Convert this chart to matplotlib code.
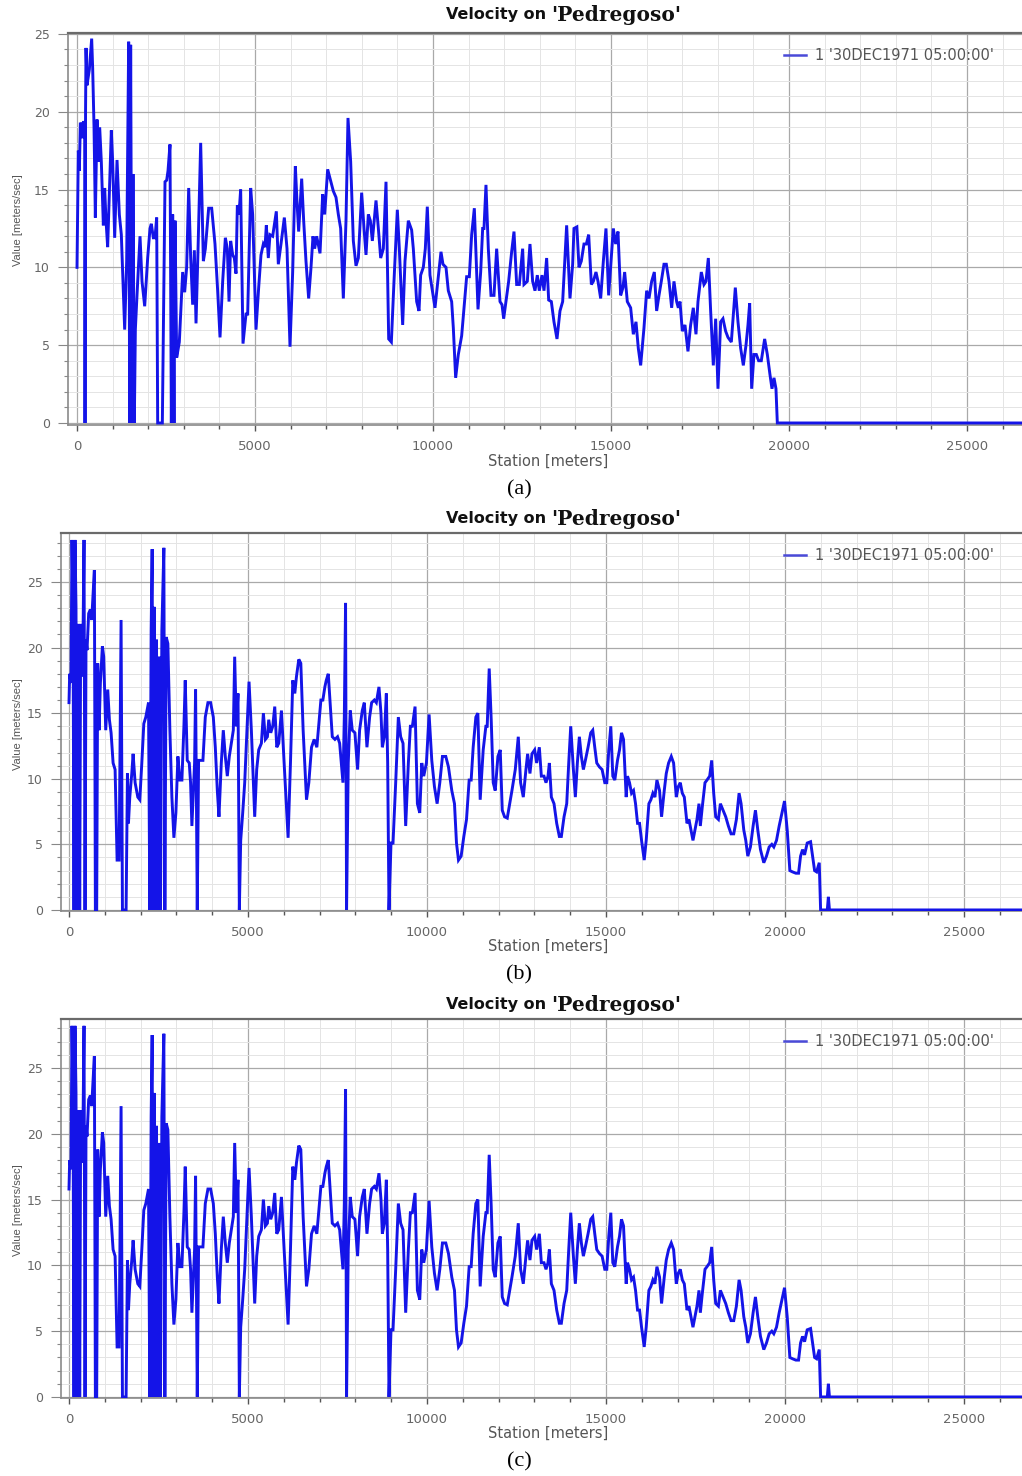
import matplotlib
matplotlib.use("Agg")
import matplotlib.pyplot as plt
from matplotlib.ticker import MultipleLocator
from matplotlib.lines import Line2D

# ---------------- data ----------------
# Panel (a): velocity profile along the reach
station_a = [
    0, 37, 66, 94, 131, 159, 187, 215, 225, 240,
    253, 281, 346, 412, 440, 478, 515, 562, 599, 637,
    683, 740, 777, 815, 861, 908, 964, 1002, 1058, 1124,
    1189, 1245, 1339, 1395, 1451, 1479, 1507, 1545, 1573, 1610,
    1639, 1685, 1770, 1826, 1901, 1985, 2050, 2088, 2144, 2191,
    2238, 2266, 2397, 2472, 2519, 2556, 2612, 2650, 2687, 2725,
    2753, 2800, 2874, 2968, 3024, 3080, 3137, 3193, 3249, 3296,
    3343, 3399, 3474, 3549, 3605, 3698, 3783, 3876, 3951, 4017,
    4092, 4167, 4223, 4270, 4316, 4373, 4419, 4466, 4504, 4550,
    4597, 4663, 4747, 4794, 4878, 4934, 5028, 5103, 5168, 5234,
    5281, 5318, 5374, 5421, 5496, 5599, 5655, 5730, 5824, 5899,
    5983, 6058, 6133, 6180, 6226, 6311, 6367, 6432, 6507, 6573,
    6629, 6676, 6732, 6826, 6901, 6957, 7041,
    7200, 7275, 7341, 7406, 7481, 7556, 7612, 7687, 7762, 7837,
    7903, 7996, 8062, 8118, 8183, 8240, 8296, 8399, 8465, 8530,
    8605, 8680, 8755, 8830, 8904, 8998, 9054, 9148, 9213, 9307,
    9400, 9447, 9541, 9607, 9653, 9728, 9784, 9840, 9915, 10056,
    10149, 10224, 10280, 10365, 10430, 10524, 10571, 10636, 10711, 10805,
    10870, 10945, 11020, 11086, 11161, 11264, 11339, 11395, 11432, 11488,
    11554, 11629, 11713, 11788, 11882, 11938, 11985, 12050, 12125, 12209,
    12275, 12350, 12425, 12518, 12556, 12649, 12724, 12799, 12865, 12930,
    12986, 13061, 13118, 13192, 13249, 13324, 13398, 13483, 13567, 13642,
    13754, 13848, 13923,
    13960, 14041, 14101, 14166, 14241, 14307, 14373, 14448, 14504, 14578,
    14635, 14710, 14785, 14859, 14934, 14990, 15065, 15131, 15196, 15271,
    15336, 15383, 15458, 15552, 15627, 15702, 15767, 15833, 15926, 16001,
    16067, 16142, 16217, 16282, 16348, 16413, 16488, 16554, 16629, 16704,
    16769, 16844, 16891, 16938, 17003, 17078, 17162, 17237, 17312, 17387,
    17443, 17537, 17612, 17668, 17734, 17799, 17874, 17940, 18005, 18080,
    18145, 18220, 18286, 18380, 18492, 18567, 18642, 18717, 18792, 18848,
    18895, 18951, 19016, 19082, 19147, 19222, 19316, 19391, 19466, 19522,
    19578, 19634, 19672, 26600,
]
velocity_a = [
    10.0, 17.5, 16.2, 19.3, 19.0, 18.3, 19.4, 19.0, 0.0, 20.0,
    24.1, 21.7, 22.7, 24.7, 22.8, 19.0, 13.2, 19.5, 16.8, 19.0,
    16.8, 12.7, 15.1, 13.0, 11.3, 14.7, 18.8, 16.8, 11.9, 16.9,
    13.4, 12.1, 6.0, 10.4, 24.5, 0.0, 24.3, 0.0, 16.0, 0.0,
    6.0, 8.2, 12.0, 9.1, 7.5, 10.6, 12.5, 12.8, 11.9, 11.9,
    13.2, 0.0, 0.0, 15.5, 15.6, 16.2, 17.9, 0.0, 13.4, 0.0,
    13.0, 4.2, 5.2, 9.7, 8.4, 10.0, 15.1, 10.6, 7.6, 11.1,
    6.4, 11.1, 18.0, 10.4, 11.2, 13.8, 13.8, 11.5, 8.5, 5.5,
    9.1, 11.9, 11.2, 7.8, 11.7, 10.8, 10.6, 9.6, 14.0, 13.4,
    15.0, 5.1, 7.0, 7.0, 15.1, 13.4, 6.0, 8.7, 10.8, 11.5,
    11.3, 12.7, 10.6, 12.1, 12.0, 13.6, 10.2, 11.5, 13.2, 11.2,
    4.9, 9.7, 16.5, 14.2, 12.3, 15.7, 13.0, 10.4, 8.0, 10.0,
    12.0, 11.2, 12.0, 10.9, 14.7, 13.4, 16.3,
    14.9, 14.5, 13.4, 12.5, 8.0, 13.0, 19.6, 16.8, 11.7, 10.1,
    10.6, 14.8, 12.5, 10.8, 13.4, 13.0, 11.7, 14.3, 12.5, 10.6,
    11.2, 15.5, 5.4, 5.2, 9.1, 13.7, 11.2, 6.3, 10.4, 13.0,
    12.4, 11.2, 7.8, 7.2, 9.5, 10.0, 11.2, 13.9, 9.5, 7.4,
    9.4, 11.0, 10.2, 10.0, 8.5, 7.8, 6.1, 2.9, 4.4, 5.6,
    7.4, 9.4, 9.4, 12.1, 13.8, 7.3, 9.7, 12.5, 12.5, 15.3,
    11.2, 8.2, 8.2, 11.2, 7.8, 7.6, 6.7, 7.8, 9.1, 11.0,
    12.3, 8.9, 8.9, 11.2, 8.9, 9.1, 11.5, 9.1, 8.5, 9.5,
    8.5, 9.5, 8.5, 10.6, 7.9, 7.8, 6.5, 5.4, 7.2, 7.8,
    12.7, 8.0, 10.2,
    12.5, 12.6, 10.0, 10.4, 11.5, 11.5, 12.1, 8.9, 9.1, 9.7,
    9.1, 8.0, 10.4, 12.5, 8.2, 10.0, 12.5, 11.5, 12.3, 8.2,
    8.7, 9.7, 7.8, 7.4, 5.7, 6.5, 4.8, 3.7, 6.1, 8.5,
    8.0, 9.1, 9.7, 7.2, 8.2, 9.1, 10.2, 10.2, 9.1, 7.4,
    9.1, 7.8, 7.4, 7.8, 5.9, 6.3, 4.6, 6.3, 7.4, 5.7,
    7.8, 9.7, 8.9, 9.1, 10.6, 7.2, 3.7, 6.7, 2.2, 6.5,
    6.7, 5.9, 5.5, 5.2, 8.7, 6.5, 4.8, 3.7, 5.0, 6.3,
    7.7, 2.2, 4.4, 4.4, 4.0, 4.0, 5.4, 4.4, 3.1, 2.2,
    2.9, 2.2, 0.0, 0.0,
]

# Panels (b) and (c): velocity profile along the reach
station_bc = [
    0, 19, 56, 84, 112, 140, 168, 196, 224, 252,
    280, 299, 327, 355, 392, 420, 448, 476, 504, 550,
    597, 634, 709, 737, 774, 802, 840, 877, 933, 970,
    1026, 1082, 1129, 1176, 1232, 1288, 1344, 1400, 1455, 1493,
    1595, 1633, 1661, 1698, 1754, 1791, 1847, 1922, 1978, 2034,
    2090, 2146, 2221, 2258, 2295, 2323, 2351, 2379, 2407, 2444,
    2482, 2519, 2556, 2594, 2650, 2678, 2715, 2762, 2818, 2874,
    2930, 2986, 3042, 3098, 3154, 3210, 3247, 3303, 3359, 3396,
    3433, 3508, 3536, 3583, 3620, 3676, 3741, 3807, 3881, 3956,
    4031, 4087, 4143, 4189, 4254, 4310, 4366, 4422, 4478, 4534,
    4590, 4628, 4674, 4721, 4758, 4796, 4852, 4908, 4964, 5029,
    5094, 5187, 5243, 5299, 5374, 5430, 5486, 5542, 5579, 5635,
    5691, 5747, 5803, 5859, 5934, 6009, 6120, 6186, 6251, 6307,
    6354, 6419, 6475, 6540, 6634, 6699, 6774, 6848, 6923,
    7036, 7091, 7147, 7186, 7242, 7307, 7354, 7428, 7501, 7560,
    7615, 7652, 7690, 7725, 7753, 7800, 7856, 7912, 7986, 8061,
    8117, 8192, 8248, 8322, 8397, 8453, 8528, 8584, 8658, 8714,
    8752, 8808, 8864, 8901, 8938, 8994, 9050, 9125, 9199, 9264,
    9330, 9404, 9479, 9535, 9591, 9666, 9731, 9797, 9853, 9908,
    9983, 10058, 10133, 10207, 10282, 10357, 10431, 10524, 10599, 10692,
    10767, 10823, 10879, 10953, 11028, 11103, 11177, 11233, 11289, 11364,
    11420, 11485, 11569, 11644, 11681, 11737, 11793, 11849, 11905, 11980,
    12045, 12101, 12166, 12241, 12297, 12372, 12465, 12549, 12614, 12689,
    12763, 12810, 12875, 12931, 13006, 13062, 13137, 13193, 13267, 13323,
    13379, 13417, 13473, 13547, 13622, 13696, 13752, 13827,
    13902, 13958, 14014, 14088, 14143, 14199, 14255, 14311, 14367, 14423,
    14498, 14573, 14629, 14685, 14741, 14815, 14890, 14965, 15021, 15077,
    15133, 15189, 15245, 15320, 15376, 15432, 15488, 15563, 15600, 15656,
    15712, 15768, 15824, 15880, 15936, 15992, 16066, 16122, 16197, 16253,
    16309, 16365, 16421, 16495, 16551, 16626, 16682, 16747, 16822, 16887,
    16962, 17018, 17074, 17130, 17186, 17261, 17316, 17372, 17428, 17484,
    17540, 17596, 17634, 17690, 17764, 17820, 17895, 17951, 18007, 18063,
    18138, 18194, 18268, 18343, 18417, 18492, 18567, 18641, 18716, 18772,
    18847, 18903, 18959, 19033, 19108, 19173, 19238, 19313, 19406, 19481,
    19556, 19630, 19686, 19761, 19836, 19929, 19985, 20060, 20134, 20209,
    20302, 20377, 20433, 20489, 20545, 20619, 20713, 20769, 20825, 20881,
    20955, 20993, 21180, 21210, 21240, 26650,
]
velocity_bc = [
    15.8, 18.0, 17.3, 28.2, 23.1, 0.0, 28.2, 23.1, 0.0, 21.8,
    17.8, 0.0, 21.8, 17.8, 20.8, 28.2, 0.0, 20.6, 19.8, 22.6,
    22.9, 22.1, 25.9, 0.0, 0.0, 18.8, 13.7, 17.3, 20.1, 19.3,
    13.7, 16.8, 14.5, 13.5, 11.2, 10.7, 3.8, 3.8, 22.1, 0.0,
    0.0, 10.4, 6.6, 8.6, 10.4, 11.9, 9.7, 8.6, 8.4, 11.2,
    14.2, 14.7, 15.8, 0.0, 21.3, 27.5, 0.0, 23.1, 0.0, 20.6,
    0.0, 19.3, 0.0, 21.3, 27.6, 0.0, 20.8, 20.3, 13.7, 8.6,
    5.5, 7.4, 11.7, 9.9, 9.9, 14.0, 17.5, 11.4, 11.2, 9.7,
    6.4, 11.2, 16.8, 0.0, 11.4, 11.4, 11.4, 14.7, 15.8, 15.8,
    14.7, 12.4, 9.1, 7.1, 11.2, 13.7, 11.7, 10.2, 11.7, 12.7,
    13.7, 19.3, 14.0, 16.5, 0.0, 5.3, 7.4, 9.7, 13.2, 17.4,
    13.7, 7.1, 10.7, 12.2, 12.7, 15.0, 13.0, 13.2, 14.5, 13.5,
    14.0, 15.5, 12.4, 12.7, 15.2, 11.2, 5.5, 11.2, 17.5, 16.5,
    17.8, 19.1, 18.8, 13.7, 8.4, 9.7, 12.4, 13.0, 12.4,
    16.0, 16.0, 17.0, 17.5, 18.0, 15.2, 13.2, 13.0, 13.2, 12.7,
    10.9, 9.7, 14.7, 23.4, 0.0, 11.2, 15.2, 13.7, 13.5, 10.7,
    13.7, 15.2, 15.8, 12.4, 14.7, 15.8, 16.0, 15.8, 17.0, 15.0,
    12.4, 13.2, 16.5, 11.2, 0.0, 5.1, 5.1, 9.7, 14.7, 13.2,
    12.7, 6.4, 11.2, 14.0, 14.0, 15.5, 8.1, 7.4, 11.2, 10.2,
    11.2, 14.9, 11.4, 9.4, 8.1, 9.7, 11.7, 11.7, 10.9, 9.1,
    8.1, 5.1, 3.8, 4.1, 5.6, 6.9, 9.9, 9.9, 12.4, 14.7,
    15.0, 8.4, 12.2, 14.0, 14.0, 18.4, 14.5, 9.7, 9.1, 11.7,
    12.2, 7.6, 7.1, 7.0, 7.9, 9.1, 10.7, 13.2, 9.7, 8.6,
    10.7, 11.9, 10.4, 11.9, 12.2, 11.2, 12.4, 10.2, 10.2, 9.7,
    10.2, 11.2, 8.6, 8.1, 6.6, 5.6, 5.6, 7.1,
    8.1, 11.2, 14.0, 10.7, 8.6, 11.2, 13.2, 11.7, 10.7, 11.4,
    12.4, 13.5, 13.7, 12.4, 11.2, 10.9, 10.7, 9.7, 9.7, 12.2,
    14.0, 10.2, 9.9, 11.4, 12.2, 13.5, 13.0, 8.6, 10.2, 9.7,
    8.9, 9.1, 8.1, 6.6, 6.6, 5.3, 3.8, 5.3, 8.1, 8.4,
    8.9, 8.6, 9.9, 9.1, 7.1, 9.1, 10.4, 11.2, 11.7, 11.2,
    8.6, 9.4, 9.7, 8.9, 8.6, 6.6, 6.9, 6.1, 5.3, 6.1,
    6.9, 8.1, 6.4, 7.9, 9.7, 9.9, 10.2, 11.4, 8.9, 7.1,
    6.9, 8.1, 7.6, 7.1, 6.4, 5.8, 5.8, 6.9, 8.9, 8.1,
    6.1, 5.3, 4.1, 4.8, 6.4, 7.6, 6.1, 4.6, 3.6, 4.1,
    4.8, 5.0, 4.8, 5.3, 6.4, 7.6, 8.3, 6.1, 3.0, 2.9,
    2.8, 2.8, 4.1, 4.6, 4.2, 5.1, 5.2, 4.1, 3.0, 2.9,
    3.6, 0.0, 0.0, 1.0, 0.0, 0.0,
]

x_ticks = [0, 5000, 10000, 15000, 20000, 25000]
title_left = "Velocity on"
title_right = "'Pedregoso'"
legend_label = "1 '30DEC1971 05:00:00'"
x_label = "Station [meters]"
y_label = "Value [meters/sec]"
captions = ["(a)", "(b)", "(c)"]

# ---------------- layout (pixel based) ----------------
W, H = 1022, 1476
fig = plt.figure(figsize=(W / 100, H / 100), dpi=100)
fig.patch.set_facecolor("white")


def fx(px):
    return px / W


def fy(py):
    return 1 - py / H


LINE_COLOR = "#1414e8"
TICK_COLOR = "#666666"

panels = [
    dict(x=station_a, y=velocity_a, left=68, top=33, bottom=425,
         xlim=(-253, 26545), ylim=(-0.13, 25.06), yticks=[0, 5, 10, 15, 20, 25],
         title_y=15, legend_y=56, xlabel_y=461, ylabel_y=220, cap_y=490),
    dict(x=station_bc, y=velocity_bc, left=61, top=533, bottom=911,
         xlim=(-223, 26618), ylim=(-0.08, 28.73), yticks=[0, 5, 10, 15, 20, 25],
         title_y=519, legend_y=556, xlabel_y=946, ylabel_y=724, cap_y=975),
    dict(x=station_bc, y=velocity_bc, left=61, top=1019, bottom=1398,
         xlim=(-223, 26618), ylim=(-0.08, 28.72), yticks=[0, 5, 10, 15, 20, 25],
         title_y=1005, legend_y=1042, xlabel_y=1433, ylabel_y=1210, cap_y=1462),
]

for p, cap in zip(panels, captions):
    ax = fig.add_axes([fx(p["left"]), fy(p["bottom"]),
                       fx(W - p["left"]), (p["bottom"] - p["top"]) / H])
    ax.plot(p["x"], p["y"], color=LINE_COLOR, lw=2.1, solid_joinstyle="miter",
            zorder=3)
    ax.set_xlim(*p["xlim"])
    ax.set_ylim(*p["ylim"])

    ax.set_xticks(x_ticks)
    ax.set_yticks(p["yticks"])
    ax.xaxis.set_minor_locator(MultipleLocator(1000))
    ax.yaxis.set_minor_locator(MultipleLocator(1))
    ax.grid(which="major", color="#a9a9a9", lw=0.9, zorder=0)
    ax.grid(which="minor", color="#e4e4e4", lw=0.7, zorder=0)
    ax.set_axisbelow(True)

    ax.tick_params(axis="x", which="major", direction="out", length=4,
                   width=1.0, color="#555555", pad=7, labelsize=9.5,
                   labelcolor=TICK_COLOR)
    ax.tick_params(axis="x", which="minor", direction="out", length=3,
                   width=1.0, color="#555555")
    ax.tick_params(axis="y", which="major", direction="out", length=7,
                   width=0.8, color="#888888", pad=6, labelsize=9,
                   labelcolor=TICK_COLOR)
    ax.tick_params(axis="y", which="minor", direction="out", length=3,
                   width=0.8, color="#888888")
    for lab in ax.get_xticklabels() + ax.get_yticklabels():
        lab.set_family("DejaVu Sans")

    ax.spines["right"].set_visible(False)
    ax.spines["top"].set_color("#6a6a6a")
    ax.spines["top"].set_linewidth(1.6)
    ax.spines["left"].set_color("#8a8a8a")
    ax.spines["left"].set_linewidth(1.2)
    ax.spines["bottom"].set_color("#8a8a8a")
    ax.spines["bottom"].set_linewidth(1.2)

    # legend entry
    handle = Line2D([], [], color="#4a4ad8", lw=1.8)
    ax.legend([handle], [legend_label], loc="center left",
              bbox_to_anchor=(fx(784), fy(p["legend_y"])),
              bbox_transform=fig.transFigure, frameon=False,
              handlelength=1.5, handletextpad=0.6, borderpad=0,
              borderaxespad=0, prop=dict(family="DejaVu Sans", size=10.5),
              labelcolor="#555555")

    # title in two typefaces
    fig.text(fx(546), fy(p["title_y"]), title_left, ha="right",
             va="center", family="DejaVu Sans", weight="bold", size=11.5,
             color="#111111")
    fig.text(fx(551), fy(p["title_y"]), title_right, ha="left",
             va="center", family="DejaVu Serif", weight="bold", size=14.5,
             color="#111111")

    fig.text(fx(548), fy(p["xlabel_y"]), x_label, ha="center", va="center",
             family="DejaVu Sans", size=10.5, color="#555555")
    fig.text(fx(18), fy(p["ylabel_y"]), y_label, ha="center", va="center",
             rotation=90, family="Liberation Sans", size=8, color="#555555")
    fig.text(fx(519), fy(p["cap_y"]), cap, ha="center", va="center",
             family="Liberation Serif", size=16, color="#000000")

fig.savefig("out.png", dpi=100, facecolor="white")
